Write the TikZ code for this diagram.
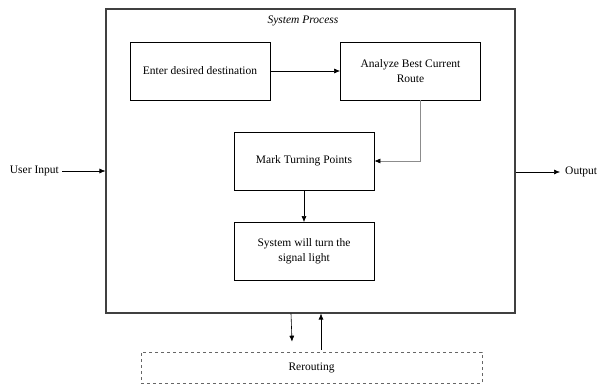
\documentclass[tikz,border=0pt]{standalone}
\usepackage{fontspec}
\setmainfont{Liberation Serif}
\usetikzlibrary{arrows.meta}
\begin{document}
\begin{tikzpicture}[x=1pt,y=-1pt,
  box/.style={draw=black,line width=0.8pt,minimum width=140pt,minimum height=58pt,align=center,font=\fontsize{11.5}{13}\selectfont,inner sep=0pt},
  conn/.style={-{Latex[length=6pt,width=5pt]},line width=0.6pt},
  lbl/.style={font=\fontsize{11.5}{13}\selectfont,inner sep=0pt}]
\useasboundingbox (0,0) rectangle (598,385);
\node[draw=black!75,line width=1.1pt,minimum width=409pt,minimum height=304pt,inner sep=0pt] (sys) at (310.5,161) {};
\node[lbl,font=\fontsize{11.5}{13}\selectfont\itshape] (title) at (303,21) {System Process};
\node[box] (enter) at (200,71) {Enter desired destination};
\node[box] (analyze) at (410.5,71) {Analyze Best Current\\[2pt]Route};
\node[box] (mark) at (304,161) {Mark Turning Points};
\node[box] (signal) at (304,251.5) {System will turn the\\[2pt]signal light};
\node[draw=black!60,dashed,line width=0.6pt,minimum width=341pt,minimum height=31pt,inner sep=0pt,lbl] (rer) at (311.5,367.5) {Rerouting};
\node[lbl,anchor=east] (uin) at (59,171) {User Input};
\node[lbl,anchor=west] (out) at (565,172) {Output};
\draw[conn] (enter.east) -- (analyze.west);
\draw[line width=0.6pt,draw=black!45] ([xshift=9.5pt]analyze.south) |- ([xshift=3pt]mark.east) coordinate (mk);
\draw[conn] (mk) -- (mark.east);
\draw[conn] (mark.south) -- (signal.north);
\draw[conn] (uin.east) ++(3pt,0) coordinate (uinS) (uinS) -- (uinS -| sys.west);
\draw[conn] (sys.east |- out) -- ([xshift=-5pt]out.west);
\draw[conn] ([xshift=-19.5pt]sys.south) -- ([xshift=-19.5pt,yshift=10pt]rer.north);
\draw[conn] ([xshift=9.5pt,yshift=2pt]rer.north) -- ([xshift=9.5pt]rer.north |- sys.south);
\end{tikzpicture}
\end{document}
